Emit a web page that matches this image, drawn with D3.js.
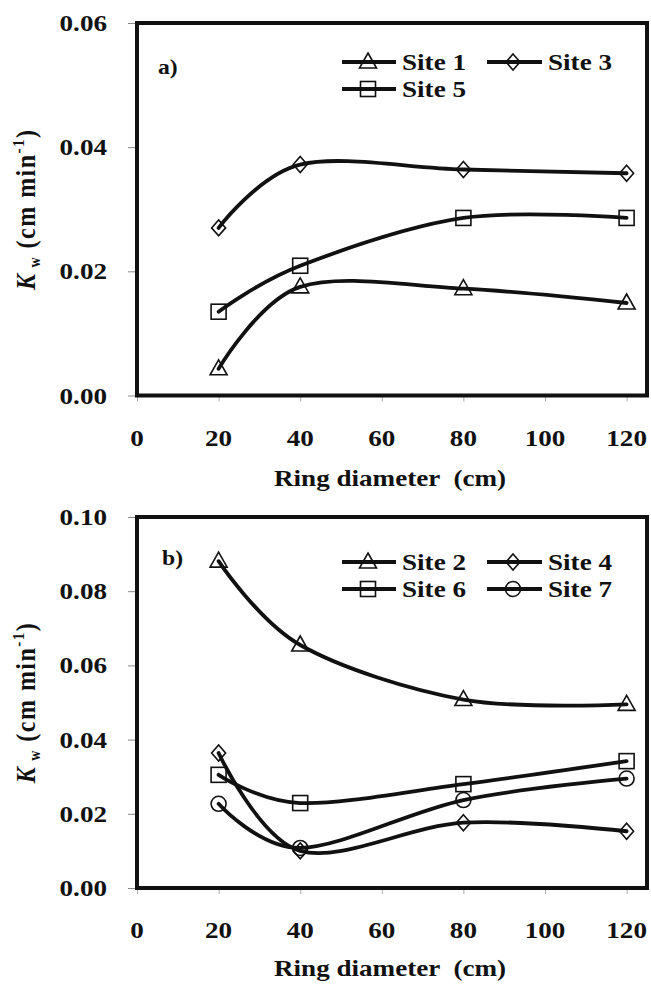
<!DOCTYPE html>
<html>
<head>
<meta charset="utf-8">
<script src="https://cdn.jsdelivr.net/npm/d3@7/dist/d3.min.js"></script>
<style>
html, body { margin: 0; padding: 0; background: #fff; }
svg { display: block; }
text { font-family: "Liberation Serif", "Times New Roman", serif; font-weight: bold; fill: #111; }
</style>
</head>
<body>
<svg id="chart" width="651" height="984"></svg>
<script>
// ---------------- DATA ----------------
const ringDiameters = [20, 40, 80, 120];          // cm
const xTickValues = [0, 20, 40, 60, 80, 100, 120];
const yTicksA = [0, 0.02, 0.04, 0.06];
const yTicksB = [0, 0.02, 0.04, 0.06, 0.08, 0.10];

// panel a)
const site1 = [0.0043, 0.0175, 0.0172, 0.0149];
const site3 = [0.0270, 0.0372, 0.0364, 0.0358];
const site5 = [0.0135, 0.0209, 0.0286, 0.0286];
// panel b)
const site2 = [0.0881, 0.0655, 0.0508, 0.0495];
const site4 = [0.0364, 0.0100, 0.0176, 0.0153];
const site6 = [0.0305, 0.0229, 0.0280, 0.0342];
const site7 = [0.0227, 0.0108, 0.0237, 0.0295];

const xTitle = "Ring diameter  (cm)";

// ---------------- LAYOUT ----------------
const SX = 1.13; // horizontal stretch of text in reference
const FS = 24;
const svg = d3.select("#chart");

const panels = [
  {
    tag: "a)", top: 23, bottom: 395.5, ymax: 0.06, yTicks: yTicksA,
    series: [
      { name: "Site 1", values: site1, marker: "triangle" },
      { name: "Site 3", values: site3, marker: "diamond" },
      { name: "Site 5", values: site5, marker: "square" }
    ],
    legendRows: [62, 89], tagY: 67, tagX: 158, tickLabelY: 446, titleY: 486
  },
  {
    tag: "b)", top: 517, bottom: 888, ymax: 0.10, yTicks: yTicksB,
    series: [
      { name: "Site 2", values: site2, marker: "triangle" },
      { name: "Site 4", values: site4, marker: "diamond" },
      { name: "Site 6", values: site6, marker: "square" },
      { name: "Site 7", values: site7, marker: "circle" }
    ],
    legendRows: [562, 589], tagY: 558, tagX: 162, tickLabelY: 938, titleY: 976
  }
];

const left = 137, right = 647;

function stretchedText(g, x, y, str, size, anchor) {
  const gg = g.append("g").attr("transform", `translate(${x},${y}) scale(${SX},1)`);
  return gg.append("text").attr("x", 0).attr("y", 0)
    .attr("text-anchor", anchor || "start")
    .style("font-size", size + "px")
    .style("white-space", "pre")
    .text(str);
}

function drawMarker(g, type, cx, cy) {
  const sw = 1.6;
  if (type === "triangle") {
    const w = 17, h = 15;
    g.append("path")
      .attr("d", `M${cx},${cy - h * 0.6}L${cx + w / 2},${cy + h * 0.4}L${cx - w / 2},${cy + h * 0.4}Z`)
      .attr("fill", "none").attr("stroke", "#111").attr("stroke-width", sw);
  } else if (type === "diamond") {
    const w = 14, h = 16;
    g.append("path")
      .attr("d", `M${cx},${cy - h / 2}L${cx + w / 2},${cy}L${cx},${cy + h / 2}L${cx - w / 2},${cy}Z`)
      .attr("fill", "none").attr("stroke", "#111").attr("stroke-width", sw);
  } else if (type === "square") {
    const s = 15;
    g.append("rect").attr("x", cx - s / 2).attr("y", cy - s / 2).attr("width", s).attr("height", s)
      .attr("fill", "none").attr("stroke", "#111").attr("stroke-width", sw);
  } else if (type === "circle") {
    g.append("circle").attr("cx", cx).attr("cy", cy).attr("r", 7.5)
      .attr("fill", "none").attr("stroke", "#111").attr("stroke-width", sw);
  }
}

panels.forEach(p => {
  const x = d3.scaleLinear().domain([0, 125]).range([left, right]);
  const y = d3.scaleLinear().domain([0, p.ymax]).range([p.bottom, p.top]);
  const g = svg.append("g");

  // y axis ticks
  const yAxis = d3.axisLeft(y).tickValues(p.yTicks).tickSize(9).tickFormat("");
  const ya = g.append("g").attr("transform", `translate(${left},0)`).call(yAxis);
  ya.select(".domain").remove();
  ya.selectAll("line").attr("stroke", "#888").attr("stroke-width", 1);

  // x axis ticks
  const xAxis = d3.axisBottom(x).tickValues(xTickValues).tickSize(6).tickFormat("");
  const xa = g.append("g").attr("transform", `translate(0,${p.bottom})`).call(xAxis);
  xa.select(".domain").remove();
  xa.selectAll("line").attr("stroke", "#aaa").attr("stroke-width", 1);

  // y tick labels
  p.yTicks.forEach(v => {
    stretchedText(g, 107, y(v) + 8, d3.format(".2f")(v), FS, "end");
  });
  // x tick labels
  xTickValues.forEach(v => {
    stretchedText(g, x(v), p.tickLabelY, String(v), FS, "middle");
  });

  // x title
  stretchedText(g, (left + right) / 2 - 2, p.titleY, xTitle, FS, "middle");

  // y title
  const cy = (p.top + p.bottom) / 2;
  const yt = g.append("g").attr("transform", `translate(35,${cy}) scale(${SX},1) rotate(-90)`)
    .append("text").attr("text-anchor", "middle").style("font-size", FS + "px").style("letter-spacing", "1.5px");
  yt.append("tspan").style("font-style", "italic").text("K");
  yt.append("tspan").style("font-size", "14px").attr("dy", 4).text(" w");
  yt.append("tspan").attr("dy", -4).text(" (cm min");
  yt.append("tspan").style("font-size", "15px").attr("dy", -10).text("-1");
  yt.append("tspan").attr("dy", 10).text(")");

  // series lines
  const line = d3.line()
    .x((d, i) => x(ringDiameters[i]))
    .y(d => y(d))
    .curve(d3.curveCardinal.tension(0));

  p.series.forEach(s => {
    g.append("path").attr("d", line(s.values))
      .attr("fill", "none").attr("stroke", "#111").attr("stroke-width", 3.8)
      .attr("stroke-linejoin", "round").attr("stroke-linecap", "round");
    s.values.forEach((v, i) => drawMarker(g, s.marker, x(ringDiameters[i]), y(v)));
  });

  // frame
  g.append("rect").attr("x", left).attr("y", p.top).attr("width", right - left).attr("height", p.bottom - p.top)
    .attr("fill", "none").attr("stroke", "#111").attr("stroke-width", 4);

  // panel tag
  stretchedText(g, p.tagX, p.tagY + 7, p.tag, 21, "start");

  // legend
  const cols = [{ lx0: 342, lx1: 396, mx: 368, tx: 402 }, { lx0: 487, lx1: 542, mx: 513, tx: 548 }];
  p.series.forEach((s, i) => {
    const c = cols[i % 2];
    const ry = p.legendRows[Math.floor(i / 2)];
    g.append("line").attr("x1", c.lx0).attr("x2", c.lx1).attr("y1", ry).attr("y2", ry)
      .attr("stroke", "#111").attr("stroke-width", 3.8);
    drawMarker(g, s.marker, c.mx, ry);
    stretchedText(g, c.tx, ry + 8, s.name, FS, "start");
  });
});
</script>
</body>
</html>
